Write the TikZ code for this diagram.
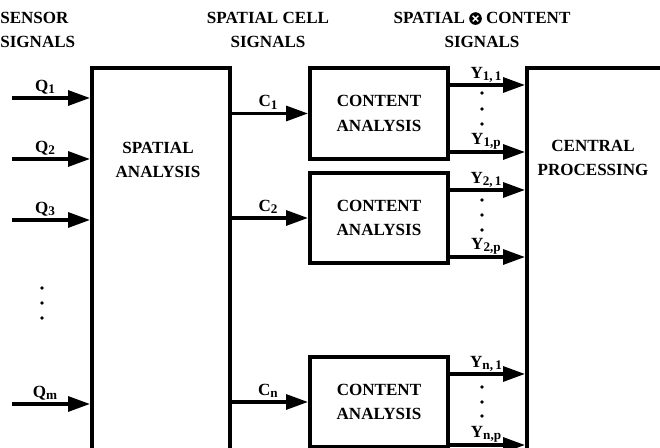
\documentclass[tikz,border=0pt]{standalone}
\usepackage{fontspec}
\setmainfont{Liberation Serif}
\usepackage{tikz}
\usetikzlibrary{positioning, arrows.meta}

% black disc with a white cross, as in the header
\newcommand{\blackcross}{\tikz[baseline=-0.6ex]{\fill[black] (0,0) circle (3.6pt);
  \draw[white, line width=0.8pt] (-1.6pt,-1.6pt) -- (1.6pt,1.6pt) (-1.6pt,1.6pt) -- (1.6pt,-1.6pt);}}
% subscript a bit larger than the default one
\newcommand{\sigsub}[1]{\raisebox{-0.3ex}{\fontsize{7.5}{8}\selectfont #1}}

\begin{document}
\begin{tikzpicture}[
  x=0.02cm, y=-0.02cm,
  every node/.style={font=\fontsize{9.7}{14}\selectfont\bfseries},
  box/.style={draw, line width=2.3pt, minimum width=2.76cm, inner sep=0pt, align=center},
  txt/.style={align=center, inner sep=1pt},
  hdr/.style={inner sep=0pt},
  lbl/.style={inner sep=0pt},
  sig/.style={line width=1.9pt, -{Triangle[length=12.5pt, width=8.5pt]}},
  dot/.style={fill=black}
]
  \useasboundingbox (0,0) rectangle (660,448);
  \clip (0,0) rectangle (660,448);

  % headers
  \node[hdr, anchor=west, align=left] (hsens) at (0,30) {SENSOR\\SIGNALS};
  \node[hdr, align=center] (hcell) at (268,30) {SPATIAL CELL\\SIGNALS};
  \node[hdr, align=center] (hcont) at (482,30) {SPATIAL \blackcross{} CONTENT\\SIGNALS};

  % blocks
  \node[box, minimum height=8.64cm] (spat) at (161,284) {};
  \node[txt] (spattxt) at (158,160) {SPATIAL\\ANALYSIS};
  \node[box, minimum height=1.82cm] (ca1) at (379,113.5) {CONTENT\\ANALYSIS};
  \node[box, minimum height=1.8cm] (ca2) at (379,218) {CONTENT\\ANALYSIS};
  \node[box, minimum height=1.8cm] (ca3) at (379,402) {CONTENT\\ANALYSIS};
  \node[box, minimum width=3.86cm, minimum height=9.04cm] (cent) at (623.5,294) {};
  \node[txt] (centtxt) at (593,158) {CENTRAL\\PROCESSING};

  % sensor signals
  \foreach \n/\y in {1/98, 2/159, 3/220, m/404} {
    \coordinate (q\n) at (12,\y);
    \draw[sig] (q\n) -- (q\n -| spat.west);
    \node[lbl] (lq\n) at (45,\y-11) {Q\sigsub{\n}};
  }
  \foreach \y in {288, 303, 318}
    \fill[dot] (42,\y) circle (1.1pt);

  % spatial cell signals
  \foreach \i/\n in {1/1, 2/2, 3/n} {
    \draw[sig] (spat.east |- ca\i) -- (ca\i.west);
    \path (spat.east |- ca\i) ++(36,-11) node[lbl] (lc\n) {C\sigsub{\n}};
  }

  % spatial x content signals
  \foreach \i/\n/\lo in {1/1/-9, 2/2/-8, 3/n/-4} {
    \path (ca\i.north east) ++(0,19) coordinate (y\n a);
    \path (ca\i.south east) ++(0,\lo) coordinate (y\n b);
    \draw[sig] (y\n a) -- (y\n a -| cent.west);
    \draw[sig] (y\n b) -- (y\n b -| cent.west);
    \path (y\n a) ++(36,-2) node[lbl, anchor=south] (ly\n a) {Y\sigsub{\n,\,1}};
    \path (y\n b) ++(36,-2) node[lbl, anchor=south] (ly\n b) {Y\sigsub{\n,p}};
  }
  \foreach \y in {93, 109, 124, 200, 215, 230, 387, 402, 416}
    \fill[dot] (482,\y) circle (1.1pt);
\end{tikzpicture}
\end{document}
